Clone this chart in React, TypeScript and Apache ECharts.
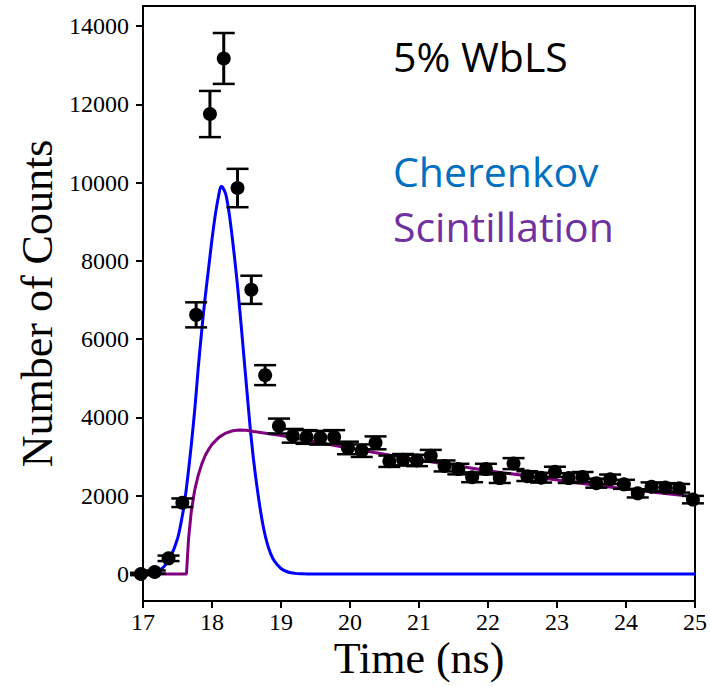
import React, { useEffect, useRef } from "react";
import * as echarts from "echarts";

// Measured data points (time in ns, counts, error)
const times = [16.97, 17.17, 17.37, 17.57, 17.77, 17.97, 18.17, 18.37, 18.57, 18.77, 18.97, 19.17, 19.37, 19.57, 19.77, 19.97, 20.17, 20.37, 20.57, 20.77, 20.97, 21.17, 21.37, 21.57, 21.77, 21.97, 22.17, 22.37, 22.57, 22.77, 22.97, 23.17, 23.37, 23.57, 23.77, 23.97, 24.17, 24.37, 24.57, 24.77, 24.97];
const counts = [0, 50, 400, 1820, 6620, 11750, 13170, 9860, 7260, 5080, 3780, 3530, 3500, 3480, 3500, 3220, 3150, 3350, 2880, 2920, 2900, 3020, 2760, 2680, 2470, 2680, 2450, 2820, 2500, 2460, 2610, 2450, 2480, 2320, 2420, 2290, 2060, 2230, 2210, 2190, 1900];
const errors = [30, 40, 70, 110, 320, 590, 650, 490, 360, 255, 190, 175, 175, 175, 175, 160, 160, 165, 145, 145, 145, 150, 140, 135, 125, 135, 125, 140, 125, 125, 130, 125, 125, 115, 120, 115, 105, 110, 110, 110, 95];

// Cherenkov fit curve (blue)
const cherTimes = [17.0, 17.1, 17.2, 17.3, 17.4, 17.5, 17.55, 17.6, 17.65, 17.7, 17.75, 17.8, 17.85, 17.9, 17.95, 18.0, 18.05, 18.1, 18.13, 18.15, 18.2, 18.25, 18.3, 18.35, 18.4, 18.45, 18.5, 18.55, 18.6, 18.65, 18.7, 18.75, 18.8, 18.85, 18.9, 19.0, 19.1, 19.2, 19.3, 19.4, 25.0];
const cherValues = [0, 20, 65, 180, 440, 900, 1300, 1800, 2500, 3300, 4200, 5250, 6200, 7050, 7800, 8550, 9200, 9700, 9900, 9890, 9700, 9200, 8500, 7700, 6800, 5800, 4800, 3800, 2950, 2250, 1650, 1150, 780, 520, 340, 140, 50, 16, 4, 0, 0];

// Scintillation fit curve (purple)
const scintTimes = [17.0, 17.63, 17.66, 17.7, 17.75, 17.8, 17.85, 17.9, 17.95, 18.0, 18.1, 18.2, 18.3, 18.4, 18.5, 18.6, 18.8, 19.0, 19.5, 20.0, 20.5, 21.0, 21.5, 22.0, 22.5, 23.0, 23.5, 24.0, 24.5, 25.0];
const scintValues = [0, 0, 900, 1600, 2150, 2520, 2800, 3020, 3180, 3310, 3490, 3600, 3660, 3680, 3670, 3640, 3590, 3540, 3370, 3210, 3060, 2910, 2780, 2640, 2520, 2400, 2280, 2170, 2070, 1970];

const yTicks = [0, 2000, 4000, 6000, 8000, 10000, 12000, 14000];

const serif = "'Liberation Serif', 'Times New Roman', serif";
const sans = "'Open Sans', 'Noto Sans', sans-serif";

export default function App() {
  const ref = useRef<HTMLDivElement>(null);
  useEffect(() => {
    if (!ref.current) return;
    const chart = echarts.init(ref.current, null, { renderer: "svg" });
    const pts = times.map((t, i) => [t, counts[i], errors[i]]);
    const option: any = {
      animation: false,
      backgroundColor: "#fff",
      grid: {
        left: 143,
        top: 6,
        width: 556,
        height: 595,
        show: true,
        borderColor: "#000",
        borderWidth: 2,
        backgroundColor: "transparent",
      },
      xAxis: {
        type: "value",
        min: 17,
        max: 25,
        interval: 1,
        name: "Time (ns)",
        nameLocation: "middle",
        nameGap: 35,
        nameMoveOverlap: false,
        nameTextStyle: { fontFamily: serif, fontSize: 44, color: "#000" },
        axisLine: { show: true, onZero: false, lineStyle: { color: "#000", width: 2 } },
        axisTick: { show: true, inside: false, length: 7, lineStyle: { color: "#000", width: 2 } },
        axisLabel: { fontFamily: serif, fontSize: 24, color: "#000", margin: 9, formatter: (v: number) => String(v) },
        splitLine: { show: false },
      },
      yAxis: {
        type: "value",
        min: -690,
        max: 14510,
        name: "Number of Counts",
        nameLocation: "middle",
        nameGap: 84,
        nameMoveOverlap: false,
        nameTextStyle: { fontFamily: serif, fontSize: 44, color: "#000" },
        axisLine: { show: true, onZero: false, lineStyle: { color: "#000", width: 2 } },
        axisTick: { show: true, inside: false, length: 7, customValues: yTicks, lineStyle: { color: "#000", width: 2 } },
        axisLabel: { fontFamily: serif, fontSize: 24, color: "#000", margin: 14, customValues: yTicks, formatter: (v: number) => String(v) },
        splitLine: { show: false },
      },
      series: [
        {
          name: "Cherenkov",
          type: "line",
          data: cherTimes.map((t, i) => [t, cherValues[i]]),
          showSymbol: false,
          smooth: 0.3,
          lineStyle: { color: "#0000ff", width: 3 },
          z: 2,
        },
        {
          name: "Scintillation",
          type: "line",
          data: scintTimes.map((t, i) => [t, scintValues[i]]),
          showSymbol: false,
          lineStyle: { color: "#800080", width: 3 },
          z: 3,
        },
        {
          name: "errors",
          type: "custom",
          data: pts,
          z: 4,
          renderItem: (params: any, api: any) => {
            const x = api.value(0);
            const y = api.value(1);
            const e = api.value(2);
            const top = api.coord([x, y + e]);
            const bot = api.coord([x, y - e]);
            const hw = 11;
            const st = { stroke: "#000", lineWidth: 2.5 };
            return {
              type: "group",
              children: [
                { type: "line", shape: { x1: top[0], y1: top[1], x2: bot[0], y2: bot[1] }, style: { ...st, lineWidth: 3 } },
                { type: "line", shape: { x1: top[0] - hw, y1: top[1], x2: top[0] + hw, y2: top[1] }, style: st },
                { type: "line", shape: { x1: bot[0] - hw, y1: bot[1], x2: bot[0] + hw, y2: bot[1] }, style: st },
              ],
            };
          },
        },
        {
          name: "Data",
          type: "scatter",
          data: pts.map((p) => [p[0], p[1]]),
          symbol: "circle",
          symbolSize: 14,
          itemStyle: { color: "#000", opacity: 1 },
          clip: false,
          z: 5,
        },
      ],
      graphic: [
        { type: "text", x: 393, y: 56, style: { text: "5% WbLS", fill: "#000", fontSize: 41, fontFamily: sans, textAlign: "left", textVerticalAlign: "middle" } },
        { type: "text", x: 393, y: 171, style: { text: "Cherenkov", fill: "#0070c0", fontSize: 41, fontFamily: sans, textAlign: "left", textVerticalAlign: "middle" } },
        { type: "text", x: 393, y: 226, style: { text: "Scintillation", fill: "#7030a0", fontSize: 41, fontFamily: sans, textAlign: "left", textVerticalAlign: "middle" } },
      ],
    };
    chart.setOption(option);
    return () => chart.dispose();
  }, []);
  return <div ref={ref} style={{ width: 710, height: 687, position: "absolute", left: 0, top: 0 }} />;
}
